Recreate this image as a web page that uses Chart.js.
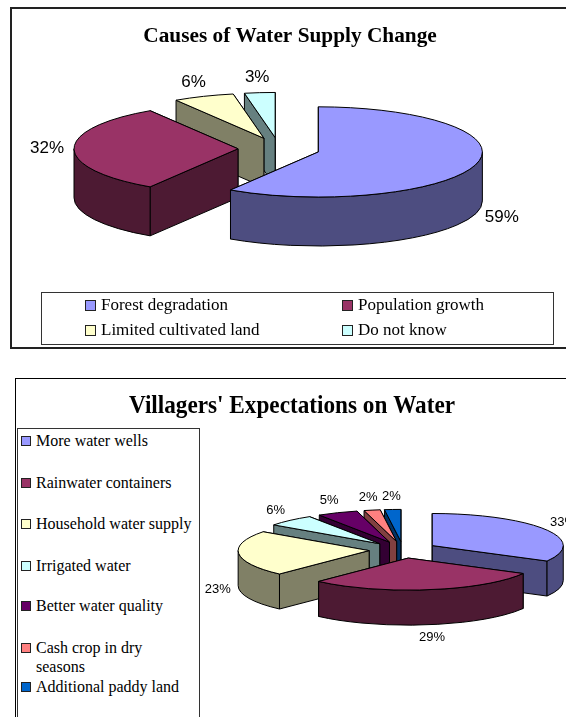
<!DOCTYPE html>
<html>
<head>
<meta charset="utf-8">
<script src="https://cdn.jsdelivr.net/npm/chart.js@4"></script>
<style>
html, body { margin: 0; padding: 0; background: #fff; }
body { width: 566px; height: 717px; overflow: hidden; position: relative; }
.frame { position: absolute; box-sizing: border-box; border: 1px solid #000; }
.chart-wrap { position: absolute; }
.legend { position: absolute; box-sizing: border-box; border: 1px solid #333; background: #fff;
    font-family: "Liberation Serif", serif; color: #000; }
.legend .item { position: absolute; }
.legend .swatch { position: absolute; box-sizing: border-box; border: 1px solid #222; }
#legend1 { left: 41px; top: 292px; width: 513px; height: 53px; font-size: 17px; line-height: 20px; }
#legend1 .swatch { left: -16px; top: 5px; width: 11px; height: 11px; }
#legend2 { left: 17px; top: 428px; width: 183px; height: 300px; font-size: 16px; line-height: 19px; }
#legend2 .swatch { left: -15px; top: 5px; width: 10px; height: 10px; }
</style>
</head>
<body>

<div class="frame" style="left:10px;top:7px;width:570px;height:342px;border-width:2px;border-color:#222"></div>
<div class="frame" style="left:15px;top:378px;width:570px;height:360px"></div>

<div class="chart-wrap" style="left:0;top:0;width:566px;height:350px"><canvas id="causesChart"></canvas></div>
<div class="chart-wrap" style="left:0;top:360px;width:566px;height:357px"><canvas id="expectChart"></canvas></div>

<div class="legend" id="legend1"></div>
<div class="legend" id="legend2"></div>

<script>
// ==========================================================
// DATA
// ==========================================================

const causeLabels = [
    "Forest degradation",
    "Population growth",
    "Limited cultivated land",
    "Do not know"
];
const causeValues = [59, 32, 6, 3];

const expectLabels = [
    "More water wells",
    "Rainwater containers",
    "Household water supply",
    "Irrigated water",
    "Better water quality",
    "Cash crop in dry seasons",
    "Additional paddy land"
];
const expectValues = [33, 29, 23, 6, 5, 2, 2];

const topColors = ["#9999FF", "#993366", "#FFFFCC", "#CCFFFF", "#660066", "#FF8080", "#0066CC"];
const sideColors = ["#4D4D80", "#4D1A33", "#808066", "#668080", "#330033", "#804040", "#003366"];

// ==========================================================
// 3D PIE PLUGIN
// ==========================================================

function wallPath(ctx, s, t0, t1) {
    ctx.beginPath();
    ctx.ellipse(s.ax, s.ay, s.r, s.ry, 0, t0, t1);
    ctx.ellipse(s.ax, s.ay + s.depth, s.r, s.ry, 0, t1, t0, true);
    ctx.closePath();
}

function radialWall(ctx, s, t, color) {
    const rimX = s.ax + s.r * Math.cos(t);
    const rimY = s.ay + s.ry * Math.sin(t);
    ctx.beginPath();
    ctx.moveTo(s.ax, s.ay);
    ctx.lineTo(rimX, rimY);
    ctx.lineTo(rimX, rimY + s.depth);
    ctx.lineTo(s.ax, s.ay + s.depth);
    ctx.closePath();
    ctx.fillStyle = color;
    ctx.fill();
    ctx.stroke();
}

function drawSlice(ctx, s) {
    ctx.strokeStyle = "#000";
    ctx.lineWidth = 1;
    ctx.lineJoin = "round";

    // back radial wall first, front one on top of it
    const walls = [s.start, s.end].sort((a, b) => Math.sin(a) - Math.sin(b));
    walls.forEach(t => radialWall(ctx, s, t, s.side));

    // curved wall, only the part of the rim facing the viewer
    [0, 2 * Math.PI].forEach(turn => {
        const t0 = Math.max(s.start, turn);
        const t1 = Math.min(s.end, turn + Math.PI);
        if (t1 > t0) {
            wallPath(ctx, s, t0, t1);
            ctx.fillStyle = s.side;
            ctx.fill();
            ctx.stroke();
        }
    });

    // top surface
    ctx.beginPath();
    ctx.moveTo(s.ax, s.ay);
    ctx.ellipse(s.ax, s.ay, s.r, s.ry, 0, s.start, s.end);
    ctx.closePath();
    ctx.fillStyle = s.top;
    ctx.fill();
    ctx.stroke();
}

const pie3d = {
    id: "pie3d",

    afterLayout(chart, args, opts) {
        chart.titleBlock.left += opts.titleShift;
        chart.titleBlock.right += opts.titleShift;
    },

    beforeDatasetsDraw(chart, args, opts) {
        const ctx = chart.ctx;
        const meta = chart.getDatasetMeta(0);
        const values = chart.data.datasets[0].data;

        const slices = meta.data.map((arc, i) => {
            const p = arc.getProps(["x", "y", "startAngle", "endAngle", "outerRadius"], true);
            const mid = (p.startAngle + p.endAngle) / 2;
            const offset = arc.options.offset;
            let start = p.startAngle;
            let end = p.endAngle;
            while (start < 0) {
                start += 2 * Math.PI;
                end += 2 * Math.PI;
            }
            return {
                index: i,
                mid: mid,
                start: start,
                end: end,
                ax: p.x + Math.cos(mid) * offset,
                ay: p.y + Math.sin(mid) * offset * opts.tilt,
                r: p.outerRadius,
                ry: p.outerRadius * opts.tilt,
                depth: opts.depth,
                top: arc.options.backgroundColor,
                side: sideColors[i]
            };
        });

        // paint from the back of the pie to the front
        slices.slice()
            .sort((a, b) => Math.sin(a.mid) - Math.sin(b.mid))
            .forEach(s => drawSlice(ctx, s));

        // percent labels outside the rim
        ctx.fillStyle = "#000";
        ctx.font = opts.labelFont;
        ctx.textAlign = "center";
        ctx.textBaseline = "middle";
        slices.forEach(s => {
            const cos = Math.cos(s.mid);
            const sin = Math.sin(s.mid);
            const x = s.ax + (s.r + opts.gapX) * cos;
            const y = s.ay + (s.ry + opts.gapY) * sin + (sin > 0.05 ? s.depth : 0);
            ctx.fillText(values[s.index] + "%", x, y);
        });

        return false;
    }
};

// ==========================================================
// HTML LEGEND
// ==========================================================

function buildLegend(id, chart, left, width, rowTops) {
    const box = document.getElementById(id);
    chart.legend.legendItems.forEach((item, i) => {
        const row = document.createElement("div");
        row.className = "item";
        row.style.left = left[i] + "px";
        row.style.top = rowTops[i] + "px";
        row.style.width = width + "px";
        const swatch = document.createElement("span");
        swatch.className = "swatch";
        swatch.style.background = item.fillStyle;
        row.appendChild(swatch);
        row.appendChild(document.createTextNode(item.text));
        box.appendChild(row);
    });
}

// ==========================================================
// CHARTS
// ==========================================================

function makePie(canvasId, labels, values, settings) {
    return new Chart(document.getElementById(canvasId), {
        type: "pie",
        data: {
            labels: labels,
            datasets: [{
                data: values,
                backgroundColor: topColors.slice(0, values.length),
                borderWidth: 0,
                offset: settings.explode
            }]
        },
        plugins: [pie3d],
        options: {
            responsive: true,
            maintainAspectRatio: false,
            animation: false,
            radius: settings.radius,
            layout: { padding: settings.padding },
            plugins: {
                legend: { display: false },
                tooltip: { enabled: false },
                title: {
                    display: true,
                    text: settings.title,
                    color: "#000",
                    font: { family: "Liberation Serif", size: settings.titleSize, weight: "bold" },
                    padding: settings.titlePadding
                },
                pie3d: settings.pie
            }
        }
    });
}

const causesChart = makePie("causesChart", causeLabels, causeValues, {
    title: "Causes of Water Supply Change",
    titleSize: 21.3,
    titlePadding: { top: 24, bottom: 5 },
    explode: 41,
    radius: 164,
    padding: { right: 8, bottom: 107 },
    pie: { tilt: 0.275, depth: 49, gapX: 27, gapY: 15, titleShift: 11, labelFont: "17px 'Liberation Sans'" }
});

const expectChart = makePie("expectChart", expectLabels, expectValues, {
    title: "Villagers' Expectations on Water",
    titleSize: 24.7,
    titlePadding: { top: 32, bottom: 4 },
    explode: 34,
    radius: 131,
    padding: { left: 240, bottom: 43 },
    pie: { tilt: 0.245, depth: 35, gapX: 21, gapY: 13, titleShift: -111, labelFont: "13px 'Liberation Sans'" }
});

buildLegend("legend1", causesChart, [59, 316, 59, 316], 200, [2, 2, 27, 27]);
buildLegend("legend2", expectChart, [18, 18, 18, 18, 18, 18, 18], 157, [2, 44, 85, 127, 167, 209, 248]);
</script>
</body>
</html>
